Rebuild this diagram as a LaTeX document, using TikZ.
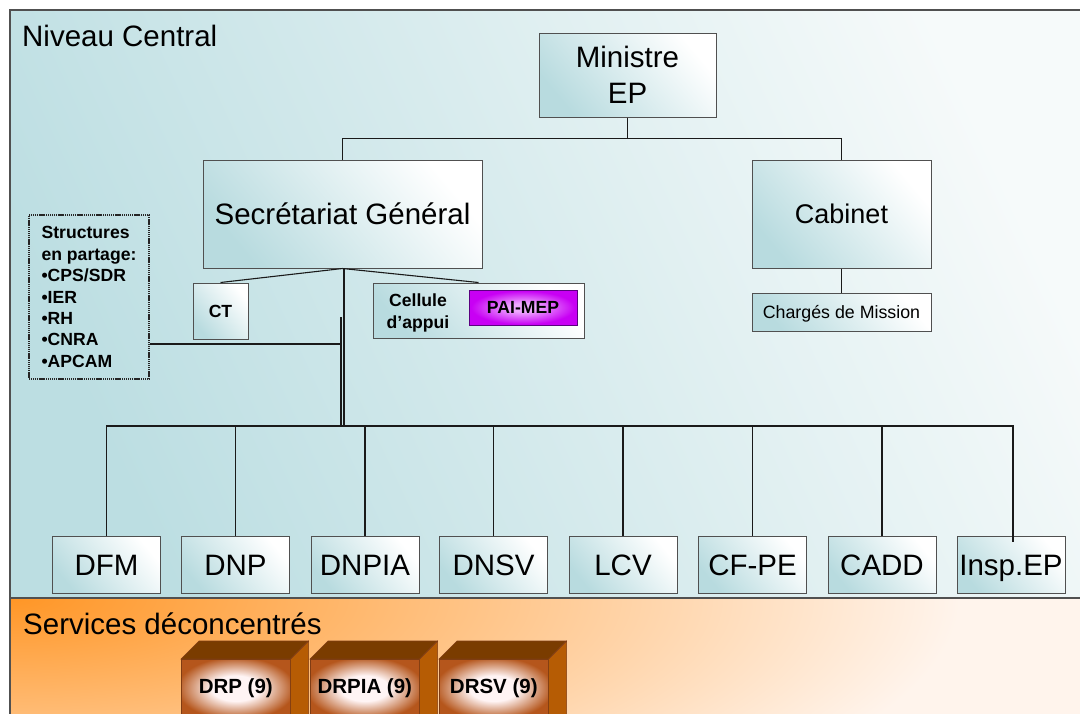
\documentclass[tikz,border=0pt]{standalone}
\usepackage{fontspec}
\setmainfont{Liberation Sans}
\usetikzlibrary{calc}
\definecolor{tealA}{HTML}{BCDEE2}
\definecolor{bandR}{HTML}{F6FAFA}
\definecolor{boxT}{HTML}{B8DBDF}
\definecolor{orgA}{HTML}{FF9626}
\definecolor{orgB}{HTML}{FFF4EC}
\definecolor{brownTop}{HTML}{7A3C00}
\definecolor{brownSide}{HTML}{B65C04}
\definecolor{brownFront}{HTML}{B5561C}
\definecolor{frontIn}{HTML}{FFF4F4}
\definecolor{magOut}{HTML}{C800F4}
\definecolor{magIn}{HTML}{EEA8FF}
\definecolor{magBorder}{HTML}{5A0080}
\definecolor{frameC}{HTML}{505050}
\definecolor{lineC}{HTML}{1A1A1A}
\pgfdeclareradialshading{cubeglow}{\pgfpoint{0bp}{0bp}}{color(0bp)=(frontIn); color(11bp)=(frontIn); color(27bp)=(brownFront); color(50bp)=(brownFront)}
\pgfdeclareradialshading{magglow}{\pgfpoint{0bp}{0bp}}{color(0bp)=(magIn); color(6bp)=(magIn); color(24bp)=(magOut); color(50bp)=(magOut)}
\pgfdeclareradialshading{orgglow}{\pgfpoint{0bp}{0bp}}{color(0bp)=(orgA); color(25bp)=(orgB); color(50bp)=(orgB)}
\tikzset{
  orgbox/.style={draw=frameC, line width=1pt, top color=white, bottom color=boxT, shading angle=-50, inner sep=0pt, align=center},
  big/.style={font=\fontsize{29.5}{36}\selectfont},
  small/.style={font=\fontsize{17.6}{21.4}\selectfont\bfseries},
  link/.style={draw=lineC, line width=1.1pt},
  dirbox/.style={orgbox, big, minimum width=108pt, minimum height=57pt, text height=21pt, text depth=0pt},
  cube/.style={draw=brownFront!70!black, line width=0.6pt, shade, shading=cubeglow, minimum width=109pt, minimum height=58pt, inner sep=0pt},
  cubetop/.style={draw=brownFront!70!black, line width=0.6pt, fill=brownTop},
  cubeside/.style={draw=brownFront!70!black, line width=0.6pt, fill=brownSide},
  bandframe/.style={draw=frameC, line width=1.2pt},
}
\begin{document}
\begin{tikzpicture}[x=1pt,y=-1pt]
\useasboundingbox (0,0) rectangle (1080,713);
\begin{scope}
\clip (0,0) rectangle (1080,713);
\fill[white] (0,0) rectangle (1080,713);
\draw[bandframe, top color=bandR, bottom color=tealA, shading angle=-65] (10,10) rectangle (1095,598);
\begin{scope}
  \clip (10,598) rectangle (1095,725);
  \fill[orgB] (10,598) rectangle (1095,725);
  \shade[shading=orgglow] (10,598) ellipse [x radius=950, y radius=290];
\end{scope}
\draw[bandframe] (10,598) rectangle (1095,725);

\node[big, anchor=base west, inner sep=0pt] (lvl1) at (22,46) {Niveau Central};
\node[big, anchor=base west, inner sep=0pt] (lvl2) at (23,634) {Services déconcentrés};

% main boxes
\node[orgbox, big, minimum width=177pt, minimum height=84pt] (min) at (627.5,75) {Ministre\\EP};
\node[orgbox, big, minimum width=279pt, minimum height=108pt, text height=21pt, text depth=0pt] (sg) at (342.5,214) {Secrétariat Général};
\node[orgbox, font=\fontsize{27}{32}\selectfont, minimum width=179pt, minimum height=108pt, text height=19.3pt, text depth=0pt] (cab) at (841.5,214) {Cabinet};
\node[orgbox, font=\fontsize{17.8}{21}\selectfont, minimum width=179pt, minimum height=38pt, text height=12.7pt, text depth=0pt] (cm) at (841.5,312) {Chargés de Mission};

\node[draw=black!85, dash pattern=on 1.2pt off 0.7pt, line width=2.2pt, small, align=left, minimum width=120pt, minimum height=164pt, inner sep=0pt] (st) at (89,297) {Structures\\en partage:\\•CPS/SDR\\•IER\\•RH\\•CNRA\\•APCAM};

\node[orgbox, small, minimum width=55pt, minimum height=56pt] (ct) at (220.5,311) {CT};
\node[orgbox, minimum width=211pt, minimum height=55pt] (cel) at (478.5,310.5) {};
\node[small, align=center, inner sep=0pt] (celt) at (418,313) {Cellule\\d’appui};
\node[draw=magBorder, line width=1pt, shade, shading=magglow, small, minimum width=108pt, minimum height=35pt, inner sep=0pt] (pai) at (523,307.5) {PAI-MEP};

% directorates
\node[dirbox] (dfm) at (106.5,564.5) {DFM};
\node[dirbox] (dnp) at (235.5,564.5) {DNP};
\node[dirbox] (dnpia) at (365,564.5) {DNPIA};
\node[dirbox] (dnsv) at (493.5,564.5) {DNSV};
\node[dirbox] (lcv) at (623,564.5) {LCV};
\node[dirbox] (cfpe) at (752.5,564.5) {CF-PE};
\node[dirbox] (cadd) at (882,564.5) {CADD};
\node[dirbox] (insp) at (1011,564.5) {Insp.EP};

% connectors
\coordinate (mj) at ($(min.south)+(0,21)$);
\draw[link] (min.south) -- (mj) -| (sg.north);
\draw[link] (mj) -| (cab.north);
\draw[link] (cab.south) -- (cm.north);
\draw[link] (sg.south) -- (ct.north);
\draw[link] (sg.south) -- (cel.north);
\coordinate (busR) at (1013,426);
\coordinate (v1) at (341,344);
\coordinate (v2top) at (341,317);
\draw[link] ($(sg.south)+(1.5,0)$) -- ($(sg.south)+(1.5,158)$);
\draw[link, line width=1.8pt] (v2top) -- (v2top |- busR);
\draw[link] (st.east |- v1) -- (v1);
\draw[link] (dfm.north) |- (busR) -- ($(insp.north)+(2,6)$);
\foreach \n in {dnp,dnpia,dnsv,lcv,cfpe,cadd} \draw[link] (\n.north) -- (\n.north |- busR);

% deconcentrated services (3D blocks)
\foreach \nm/\x/\t in {drp/181/{DRP (9)}, drpia/310/{DRPIA (9)}, drsv/439/{DRSV (9)}} {
  \node[cube, anchor=north west] (\nm) at (\x,659) {};
  \draw[cubetop] (\nm.north west) -- ++(18,-18) -- ++(109,0) -- (\nm.north east) -- cycle;
  \draw[cubeside] (\nm.north east) -- ++(18,-18) -- ++(0,80) -- ($(\nm.north east)+(0,80)$) -- cycle;
  \node[font=\fontsize{20.5}{24}\selectfont\bfseries, inner sep=0pt] at (\nm.center) {\t};
}
\end{scope}
\end{tikzpicture}
\end{document}
